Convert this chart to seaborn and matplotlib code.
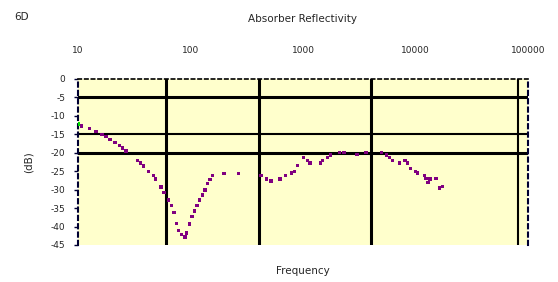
import numpy as np
import pandas as pd
import matplotlib
matplotlib.use("Agg")
import matplotlib.pyplot as plt
import seaborn as sns

# measured reflectivity (Hz, dB)
freq = [10.8, 12.6, 14.4, 16.3, 17.7, 19.3, 21.3, 23.3, 25.0, 26.7,
        33.9, 36.1, 38.4, 42.2, 46.7, 49.1, 54.7, 58.0, 64.0, 67.8,
        71.3, 74.8, 78.7, 83.2, 89.4, 92.5, 97.6, 103, 108.5, 114.7,
        119.7, 127.3, 134.6, 141.1, 149.0, 157.5, 198.6, 266,
        423, 472, 519, 625, 696, 794, 837, 890, 1006, 1092, 1154,
        1425, 1497, 1658, 1749, 2102, 2314, 3020, 3631, 5006, 5546,
        5850, 6219, 7237, 8067, 8455, 8990, 9960, 10460, 11970, 12400,
        12920, 13460, 15210, 16280, 17450]
refl = [-12.7, -13.4, -14.3, -15.0, -15.6, -16.4, -17.2, -18.1, -18.7, -19.5,
        -22.1, -22.8, -23.6, -25.0, -26.2, -27.1, -29.3, -30.8, -32.8, -34.3,
        -36.2, -39.1, -41.0, -42.2, -42.8, -41.8, -39.3, -37.2, -35.8, -34.3,
        -32.8, -31.4, -30.1, -28.4, -27.2, -26.2, -25.6, -25.6,
        -26.2, -27.1, -27.7, -27.1, -26.2, -25.5, -25.0, -23.5, -21.3, -22.1, -22.8,
        -22.8, -22.1, -21.3, -20.6, -20.0, -20.0, -20.5, -20.0, -20.0, -20.6,
        -21.3, -22.1, -22.8, -22.1, -22.8, -24.3, -25.0, -25.5, -26.2, -27.0,
        -28.1, -27.1, -27.0, -29.6, -29.2]
start_freq = [10.1]
start_refl = [-12.1]

# reference lines
hlines = [-5, -15, -20]
hline_widths = [2.2, 1.5, 2.2]
vlines = [60.5, 406, 4020, 81500]
vline_widths = [2.2, 2.2, 2.2, 1.5]

yticks = [0, -5, -10, -15, -20, -25, -30, -35, -40, -45]
xticks = [10, 100, 1000, 10000, 100000]
xtick_labels = ["10", "100", "1000", "10000", "100000"]

df = pd.DataFrame({"Frequency": freq, "dB": refl})

sns.set_style("white")
plt.rcParams["font.family"] = ["DejaVu Sans"]

fig = plt.figure(figsize=(5.58, 2.82), dpi=100)
ax = fig.add_axes([78 / 558, 1 - 245 / 282, 450 / 558, 166 / 282])
ax.set_facecolor("#FFFFCC")

for y, w in zip(hlines, hline_widths):
    ax.axhline(y, color="black", lw=w, zorder=1)
for x, w in zip(vlines, vline_widths):
    ax.axvline(x, color="black", lw=w, zorder=1)

sns.scatterplot(data=df, x="Frequency", y="dB", ax=ax, marker="s", s=6,
                color="#800080", edgecolor="none", linewidth=0, zorder=3)
ax.scatter(start_freq, start_refl, marker="s", s=6, color="#00DD00",
           linewidths=0, zorder=4)

ax.set_xscale("log")
ax.set_xlim(10, 100000)
ax.set_ylim(-45, 0)
ax.set_xticks(xticks)
ax.set_xticklabels(xtick_labels)
ax.xaxis.set_minor_locator(matplotlib.ticker.NullLocator())
ax.xaxis.tick_top()
ax.tick_params(axis="x", length=0, pad=17, labelsize=6.5)
ax.set_yticks(yticks)
ax.set_yticklabels([str(v) for v in yticks])
ax.tick_params(axis="y", length=3, width=1, left=True, pad=6, labelsize=6.5,
               color="#000033")

for side in ["left", "right"]:
    ax.spines[side].set_visible(True)
    ax.spines[side].set_color("#000033")
    ax.spines[side].set_linewidth(1.5)
    ax.spines[side].set_linestyle((0, (2, 2)))
ax.spines["top"].set_visible(True)
ax.spines["top"].set_color("black")
ax.spines["top"].set_linewidth(1.2)
ax.spines["top"].set_linestyle((0, (2, 2)))
ax.spines["bottom"].set_visible(False)

ax.set_xlabel("Frequency", fontsize=7.5, labelpad=15)
ax.set_ylabel("(dB)", fontsize=7.5, labelpad=12)
fig.text(303 / 558, 1 - 19 / 282, "Absorber Reflectivity", ha="center",
         va="center", fontsize=7.5)
fig.text(14 / 558, 1 - 17 / 282, "6D", ha="left", va="center", fontsize=7.5)

fig.savefig("out.png", dpi=100)
